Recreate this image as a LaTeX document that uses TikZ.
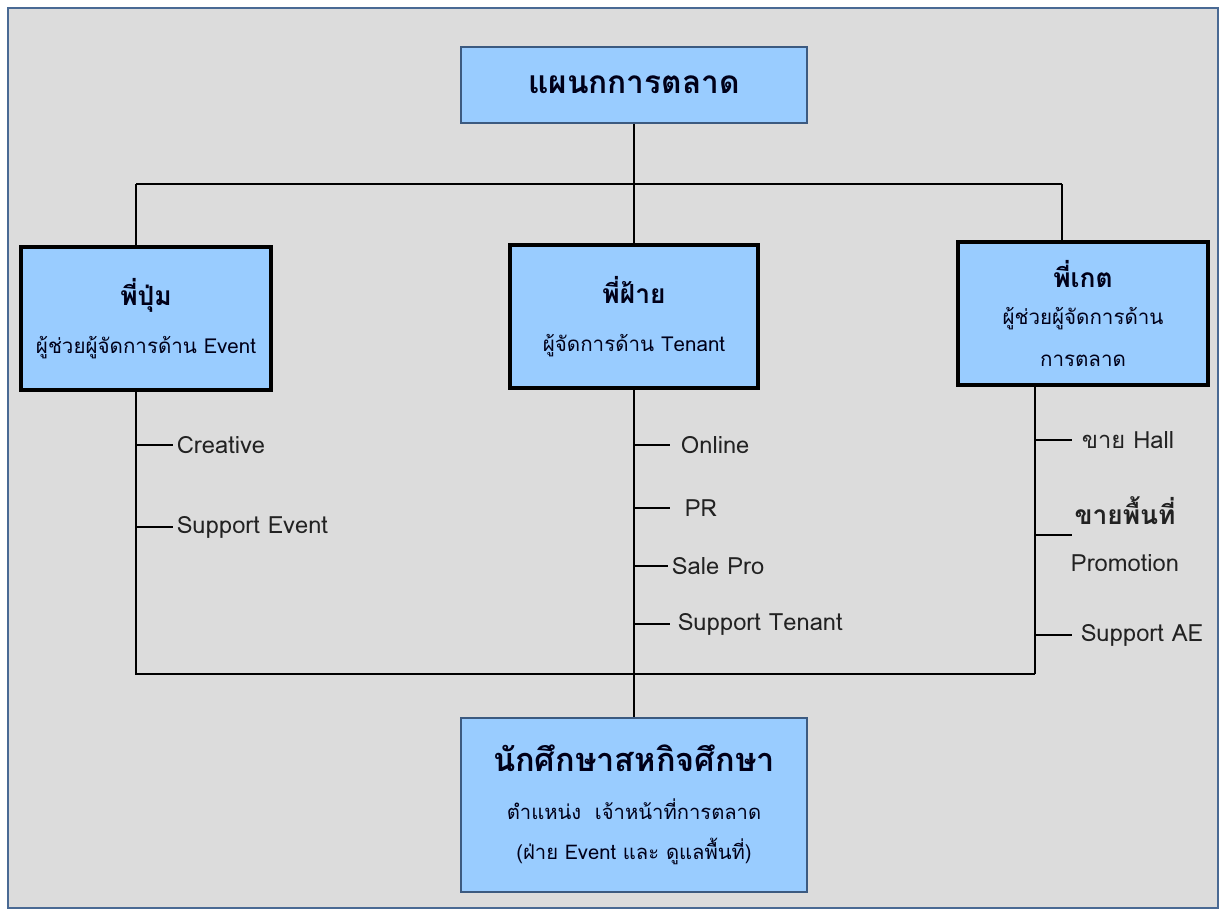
\documentclass[tikz,border=0pt]{standalone}
\usepackage{fontspec}
\setmainfont[Script=Thai]{Loma}
\usetikzlibrary{positioning}
\definecolor{framegray}{HTML}{DCDCDC}
\definecolor{frameblue}{HTML}{4A6A94}
\definecolor{boxblue}{HTML}{99CCFF}
\definecolor{boxedge}{HTML}{3C5A80}
\definecolor{inkgray}{HTML}{222222}
\newcommand{\headtext}[1]{{\bfseries\fontsize{15}{18}\selectfont #1}}
\begin{document}
\begin{tikzpicture}[x=0.02cm,y=-0.02cm,
  unitbox/.style={rectangle,draw=boxedge,line width=1.3pt,fill=boxblue,align=center,text=black!90!blue,minimum width=6.92cm},
  staffbox/.style={rectangle,draw=black,line width=1.8pt,fill=boxblue,align=center,text=black!90!blue,minimum width=5cm,minimum height=2.86cm},
  item/.style={anchor=west,inner sep=2pt,text=inkgray,font=\fontsize{13.5}{16}\selectfont}]
\def\yBusTop{184}
\def\yBusBot{674}
\def\xLeft{136}
\def\xMid{634}
\def\xRight{1035}
  \useasboundingbox (0,0) rectangle (1222,910);
  \fill[white] (0,0) rectangle (1222,910);
  \draw[frameblue,line width=1.5pt,fill=framegray] (8,8) rectangle (1218,908);
  %\draw[help lines] (0,0) grid (1222,910);

\path
(\xMid,85) node [unitbox,minimum height=1.52cm,font=\bfseries\fontsize{18}{22}\selectfont] (plan) {แผนกการตลาด}
(146,318.5) node [staffbox,font=\fontsize{11.7}{27}\selectfont] (pum) {\headtext{พี่ปุ่ม}\\ผู้ช่วยผู้จัดการด้าน Event}
(\xMid,316.5) node [staffbox,minimum width=4.96cm,font=\fontsize{11.7}{27}\selectfont] (fai) {\headtext{พี่ฝ้าย}\\ผู้จัดการด้าน Tenant}
(1083,313.5) node [staffbox,font=\fontsize{11.7}{24}\selectfont] (ket) {\headtext{พี่เกต}\\[-3pt]ผู้ช่วยผู้จัดการด้าน\\การตลาด}
(\xMid,805) node [unitbox,minimum height=3.48cm,font=\fontsize{11.5}{23}\selectfont] (coop) {{\bfseries\fontsize{18.5}{22}\selectfont นักศึกษาสหกิจศึกษา}\\[4pt]ตำแหน่ง\ \ เจ้าหน้าที่การตลาด\\(ฝ่าย Event และ ดูแลพื้นที่)}
;

% branch items
\path
(173,445) node [item] (creative) {Creative}
(173,527) node [item] (supev) {Support Event}
(677,445) node [item] (online) {Online}
(681,508) node [item] (pr) {PR}
(668,566) node [item] (salepro) {Sale Pro}
(674,624) node [item] (supten) {Support Tenant}
(1078,440) node [item] (hall) {ขาย Hall}
(1125,534) node [item,anchor=center,align=center,font=\fontsize{13.5}{27}\selectfont] (area) {{\bfseries\fontsize{15}{18}\selectfont ขายพื้นที่}\\Promotion}
(1077,635) node [item] (supae) {Support AE}
;
\coordinate (areastub) at (1072,535);

\begin{scope}[every path/.style=draw,line width=1.1pt]
\path (plan.south) -- (fai.north);
\path (\xLeft,\yBusTop) -- (1062,\yBusTop);
\path (\xLeft,\yBusTop) -- (\xLeft,\yBusTop |- pum.north);
\path (1062,\yBusTop) -- (1062,\yBusTop |- ket.north);
\path (\xLeft,\yBusTop |- pum.south) -- (\xLeft,\yBusBot) -- (\xRight,\yBusBot);
\path (\xRight,\yBusTop |- ket.south) -- (\xRight,\yBusBot);
\path (fai.south) -- (coop.north);
% stubs
\path (\xLeft,\yBusTop |- creative.west) -- (creative.west);
\path (\xLeft,\yBusTop |- supev.west) -- (supev.west);
\path (\xMid,\yBusTop |- online.west) -- ++(36,0);
\path (\xMid,\yBusTop |- pr.west) -- ++(36,0);
\path (\xMid,\yBusTop |- salepro.west) -- (salepro.west);
\path (\xMid,\yBusTop |- supten.west) -- ++(36,0);
\path (\xRight,\yBusTop |- hall.west) -- ++(37,0);
\path (\xRight,\yBusTop |- areastub) -- (areastub);
\path (\xRight,\yBusTop |- supae.west) -- ++(37,0);
\end{scope}
\end{tikzpicture}
\end{document}
